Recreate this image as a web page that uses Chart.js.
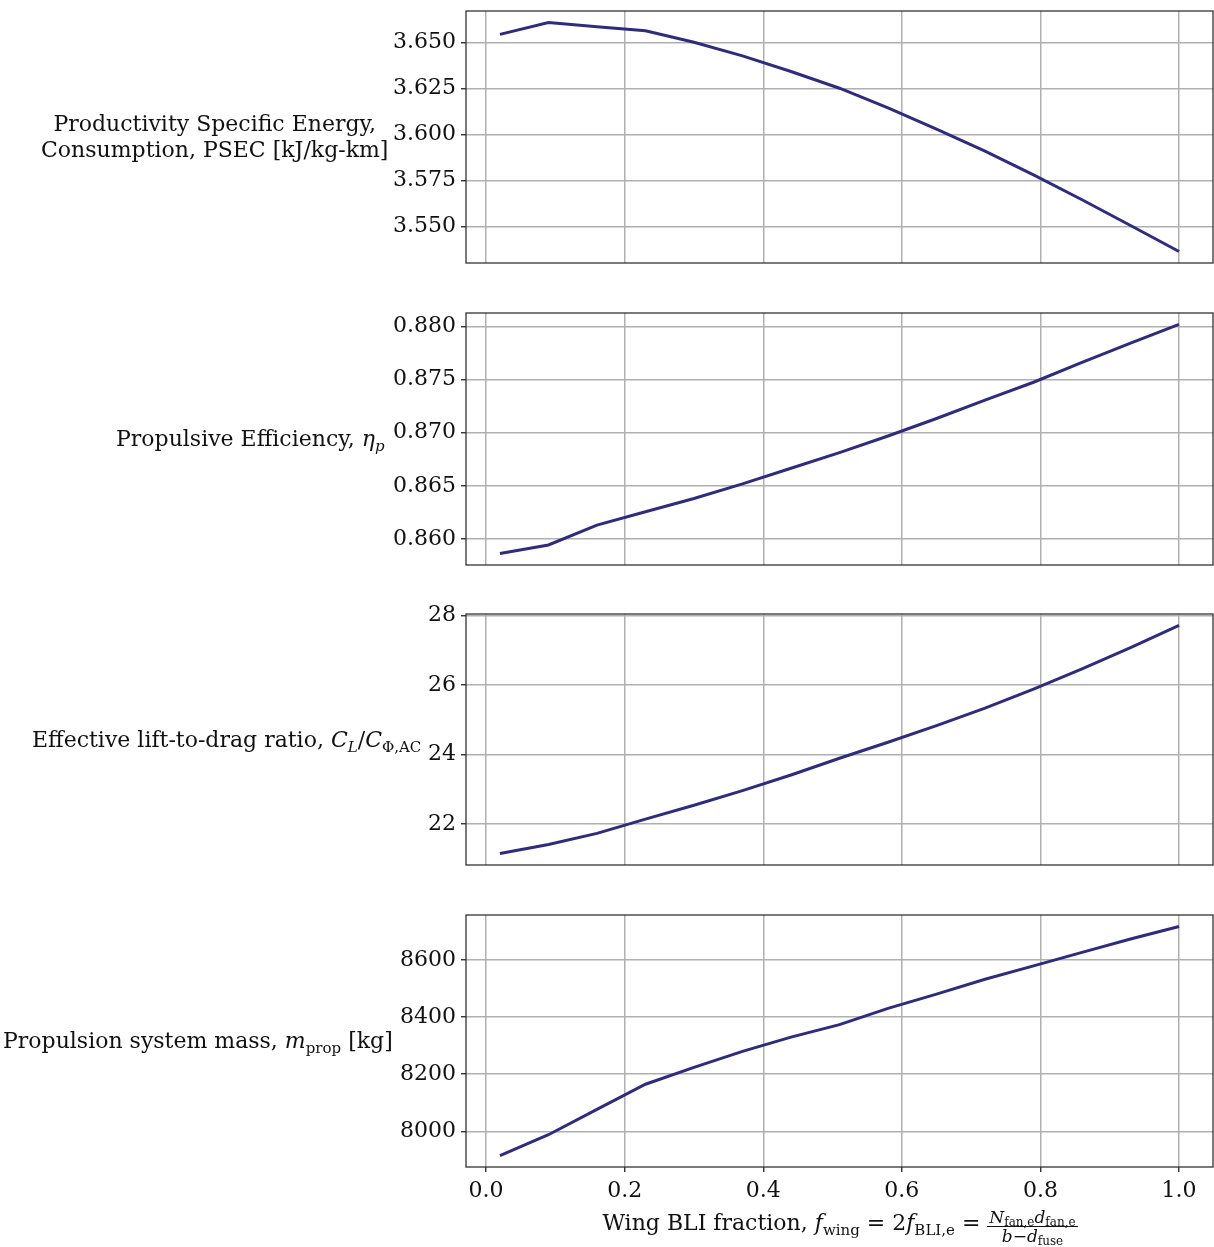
<!DOCTYPE html>
<html>
<head>
<meta charset="utf-8">
<script src="https://cdn.jsdelivr.net/npm/chart.js@4.4.1/dist/chart.umd.min.js"></script>
<style>
  html, body { margin: 0; padding: 0; background: #fff; }
  #wrap { position: relative; width: 1214px; height: 1247px; overflow: hidden; font-family: 'DejaVu Serif', serif; color: #111; }
  canvas { position: absolute; left: 0; }
  .ylab { position: absolute; font-size: 22px; line-height: 26px; text-align: center; white-space: nowrap; }
  .ylab i { font-style: italic; }
  sub { font-size: 15px; vertical-align: -5px; line-height: 0; }
  .xlab { position: absolute; top: 1208px; left: 466px; width: 748px; text-align: center; font-size: 22px; line-height: 30px; white-space: nowrap; }
  .frac { display: inline-block; vertical-align: -12px; text-align: center; font-size: 17px; line-height: 18px; }
  .frac .num { display: block; border-bottom: 1px solid #111; padding: 0 2px; }
  .frac .den { display: block; padding: 0 2px; }
  .frac sub { font-size: 12px; vertical-align: -3px; }
</style>
</head>
<body>
<div id="wrap">
  <canvas id="c1"></canvas>
  <canvas id="c2"></canvas>
  <canvas id="c3"></canvas>
  <canvas id="c4"></canvas>

  <div class="ylab" id="l1">Productivity Specific Energy,<br>Consumption, PSEC [kJ/kg-km]</div>
  <div class="ylab" id="l2">Propulsive Efficiency, <i>η<sub><i>p</i></sub></i></div>
  <div class="ylab" id="l3">Effective lift-to-drag ratio, <i>C</i><sub><i>L</i></sub>/<i>C</i><sub>Φ,AC</sub></div>
  <div class="ylab" id="l4">Propulsion system mass, <i>m</i><sub>prop</sub> [kg]</div>
  <div class="xlab">Wing BLI fraction, <i>f</i><sub>wing</sub> = 2<i>f</i><sub>BLI,e</sub> = <span class="frac"><span class="num"><i>N</i><sub>fan,e</sub><i>d</i><sub>fan,e</sub></span><span class="den"><i>b</i>−<i>d</i><sub>fuse</sub></span></span></div>
</div>

<script>
// wing BLI fraction samples
const xs = [0.02, 0.09, 0.16, 0.23, 0.30, 0.37, 0.44, 0.51, 0.58, 0.65, 0.72, 0.79, 0.86, 0.93, 1.00];

// series
const psec = [3.6545, 3.6610, 3.6587, 3.6565, 3.6502, 3.6428, 3.6343, 3.6252, 3.6145, 3.6030, 3.5910, 3.5780, 3.5645, 3.5505, 3.5363];
const etaP = [0.85863, 0.85944, 0.86131, 0.86256, 0.86381, 0.86519, 0.86666, 0.86813, 0.86969, 0.87134, 0.87306, 0.87475, 0.87663, 0.87844, 0.88019];
const liftDrag = [21.15, 21.41, 21.73, 22.14, 22.54, 22.96, 23.41, 23.89, 24.35, 24.83, 25.33, 25.88, 26.46, 27.07, 27.71];
const mProp = [7915, 7988, 8077, 8165, 8224, 8280, 8330, 8374, 8431, 8481, 8533, 8580, 8627, 8674, 8718];

// tick values
const xTicks = [0.0, 0.2, 0.4, 0.6, 0.8, 1.0];
const psecTicks = [3.550, 3.575, 3.600, 3.625, 3.650];
const etaTicks = [0.860, 0.865, 0.870, 0.875, 0.880];
const ldTicks = [22, 24, 26, 28];
const mTicks = [8000, 8200, 8400, 8600];

const LINE = '#2d2c7d';
const GRID = '#b0b0b0';
const FONT = { family: 'DejaVu Serif', size: 22 };

const AREA_LEFT = 466;
const PAD_TOP = 14;

const frame = {
  id: 'frame',
  afterDatasetsDraw(chart) {
    const a = chart.chartArea, ctx = chart.ctx;
    ctx.save();
    ctx.strokeStyle = '#333';
    ctx.lineWidth = 1.3;
    ctx.strokeRect(a.left, a.top, a.right - a.left, a.bottom - a.top);
    ctx.restore();
  }
};

function pad(arr) {
  const lo = Math.min(...arr), hi = Math.max(...arr);
  const m = (hi - lo) * 0.05;
  return [lo - m, hi + m];
}

function makePanel(id, ys, yTicks, decimals, top, bottom, isBottom) {
  const cv = document.getElementById(id);
  const xAxisH = isBottom ? 46 : 2;
  const h = PAD_TOP + (bottom - top) + xAxisH;
  cv.width = 1214; cv.height = h;
  cv.style.top = (top - PAD_TOP) + 'px';
  cv.style.width = '1214px'; cv.style.height = h + 'px';

  const [yMin, yMax] = pad(ys);
  const xr = pad(xs);

  return new Chart(cv.getContext('2d'), {
    type: 'line',
    data: {
      datasets: [{
        data: xs.map((x, i) => ({ x: x, y: ys[i] })),
        borderColor: LINE,
        borderWidth: 3,
        pointRadius: 0,
        tension: 0,
        fill: false
      }]
    },
    options: {
      responsive: false,
      animation: false,
      devicePixelRatio: 1,
      layout: { padding: { top: PAD_TOP, right: 1, left: 0, bottom: 0 } },
      plugins: { legend: { display: false }, tooltip: { enabled: false } },
      scales: {
        x: {
          type: 'linear',
          min: xr[0], max: xr[1],
          afterBuildTicks: s => { s.ticks = xTicks.map(v => ({ value: v })); },
          afterFit: s => { s.height = xAxisH; s.paddingLeft = 0; s.paddingRight = 0; },
          border: { display: false },
          grid: { color: GRID, lineWidth: 1.5, drawTicks: isBottom, tickLength: 5, tickColor: '#222', tickWidth: 1.3 },
          ticks: { display: isBottom, font: FONT, color: '#111', padding: 6, maxRotation: 0, callback: v => v.toFixed(1) }
        },
        y: {
          min: yMin, max: yMax,
          afterBuildTicks: s => { s.ticks = yTicks.map(v => ({ value: v })); },
          afterFit: s => { s.width = AREA_LEFT; s.paddingTop = 0; s.paddingBottom = 0; },
          border: { display: false },
          grid: { color: GRID, lineWidth: 1.5, drawTicks: true, tickLength: 5, tickColor: '#222', tickWidth: 1.3 },
          ticks: { font: FONT, color: '#111', padding: 5, callback: v => v.toFixed(decimals) }
        }
      }
    },
    plugins: [frame]
  });
}

makePanel('c1', psec, psecTicks, 3, 11, 263, false);
makePanel('c2', etaP, etaTicks, 3, 313, 565, false);
makePanel('c3', liftDrag, ldTicks, 0, 614, 865, false);
makePanel('c4', mProp, mTicks, 0, 915, 1167, true);

// place horizontal y labels: right edge and vertical centre
const labelPos = [['l1', 388, 137], ['l2', 385, 439], ['l3', 421, 740], ['l4', 393, 1041]];
labelPos.forEach(([id, right, cy]) => {
  const el = document.getElementById(id);
  el.style.left = (right - el.offsetWidth) + 'px';
  el.style.top = (cy - el.offsetHeight / 2) + 'px';
});
</script>
</body>
</html>
